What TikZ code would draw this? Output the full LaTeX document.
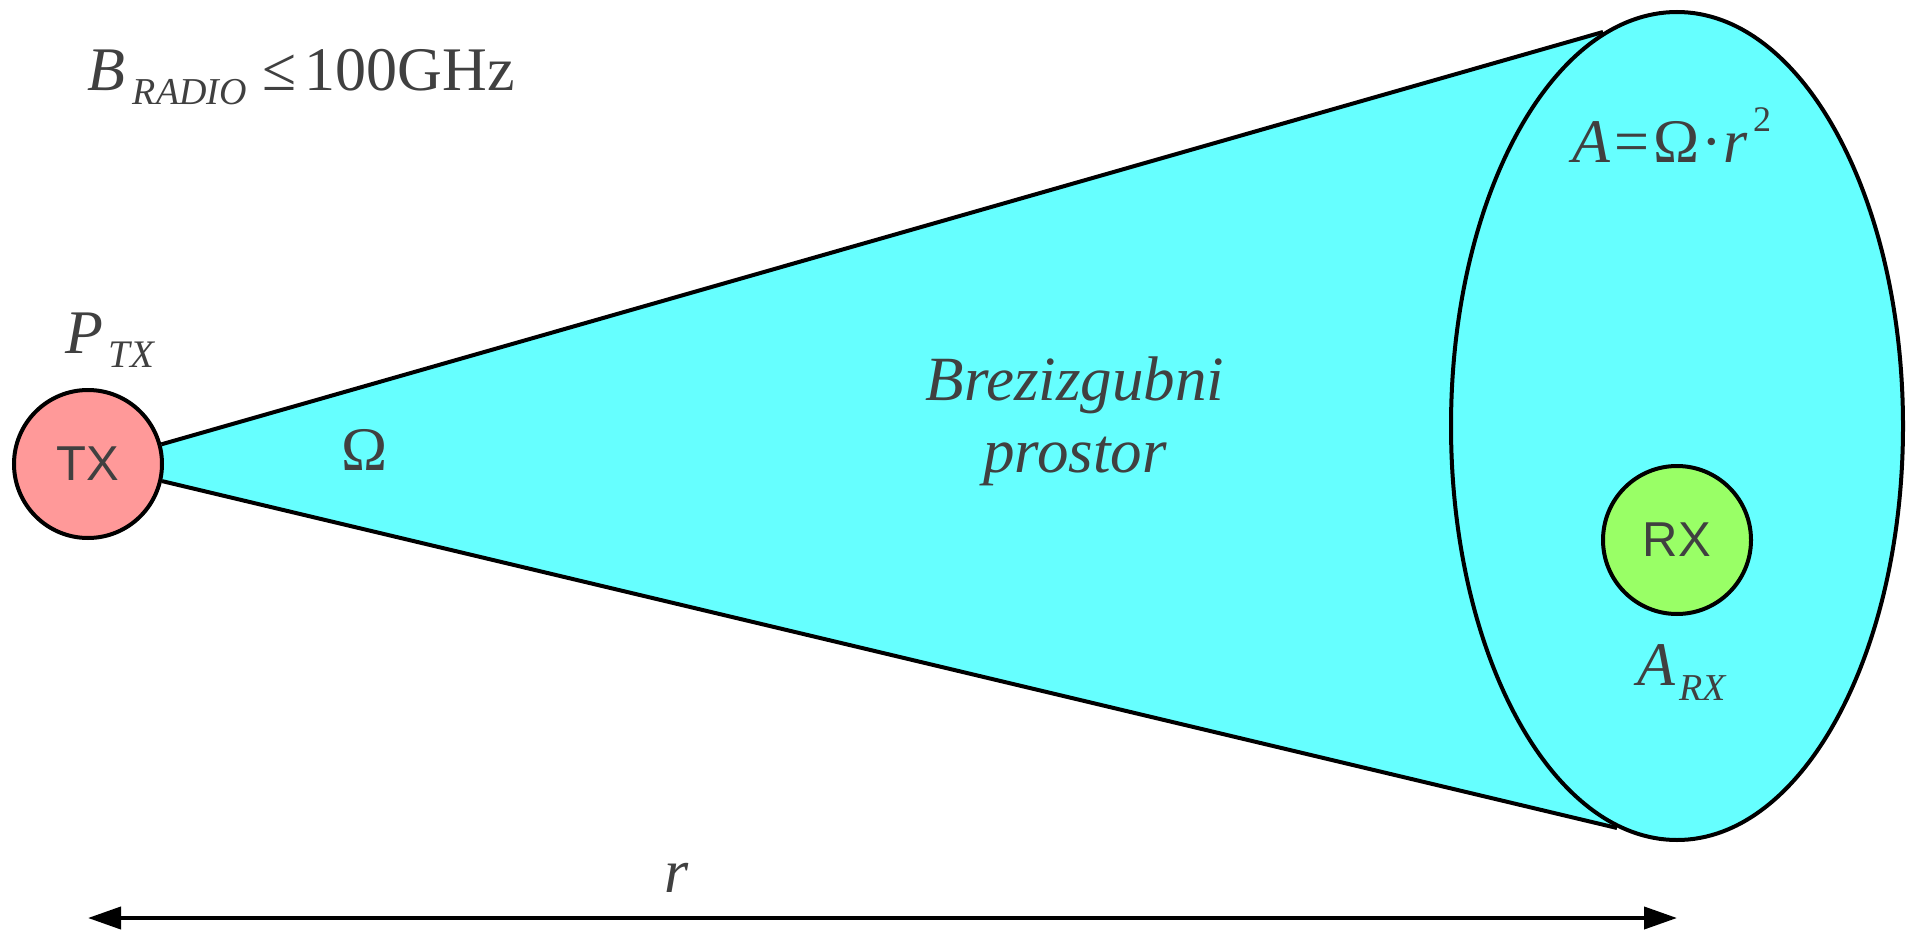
\documentclass[tikz,border=0pt]{standalone}
\usepackage{fontspec}
\setmainfont{Liberation Serif}
\setsansfont{Liberation Sans}
\usepackage{tikz}
\usetikzlibrary{arrows.meta,shapes.geometric,backgrounds}
\definecolor{ink}{HTML}{404040}
\definecolor{beam}{HTML}{66FFFF}
\definecolor{txred}{HTML}{FF9999}
\definecolor{rxgreen}{HTML}{99FF66}
\newcommand{\fsz}[1]{\fontsize{#1}{#1}\selectfont}
\newcommand{\sublbl}[3]{\raisebox{-#1pt}{\fsz{#2}\itshape #3}}
\tikzset{
  lbl/.style={text=ink, inner sep=0pt, anchor=base west, font=\fsz{62}},
  rim/.style={draw=black, line width=4pt},
  station/.style={circle, rim, minimum size=148pt, inner sep=0pt,
    text=ink, font=\sffamily\fsz{49}},
  disc/.style={ellipse, rim, fill=beam, minimum width=452pt,
    minimum height=828pt, inner sep=0pt},
}
\begin{document}
\begin{tikzpicture}[x=1pt, y=-1pt, line width=4pt]
\useasboundingbox (0,0) rectangle (1912,931);
\coordinate (ctop) at (1603,32);
\coordinate (cbot) at (1617,828);
\node[station, fill=txred] (tx) at (88,464) {TX};
\node[station, fill=rxgreen] (rx) at (1677,540) {RX};
\begin{scope}[on background layer]
\fill[beam] (tx.center) -- (tx.15) -- (ctop) -- (cbot) -- (tx.-13) -- cycle;
\draw[rim] (tx.15) -- (ctop);
\draw[rim] (tx.-13) -- (cbot);
\node[disc] (front) at (1677,426) {};
\end{scope}
% labels
\node[lbl] (band) at (85,91) {\textit{B}\hspace{8pt}\sublbl{14}{38}{RADIO}\hspace{16pt}≤\hspace{8pt}100GHz};
\node[lbl] (ptx) at (63,353) {\textit{P}\hspace{6pt}\sublbl{14}{39}{TX}};
\node[lbl, anchor=base] (omega) at (365,470) {Ω};
\node[lbl, anchor=base, align=center, font=\fontsize{63}{72}\selectfont\itshape] (space) at (1075,472) {Brezizgubni\\prostor};
\node[lbl] (area) at (1570,163) {\textit{A}\hspace{4pt}=\hspace{4pt}Ω\hspace{2pt}·\hspace{2pt}\textit{r}\hspace{5pt}\raisebox{31pt}{\fsz{36}2}};
\node[lbl] (arx) at (1635,685) {\textit{A}\hspace{4pt}\sublbl{15}{38}{RX}};
\node[lbl, font=\fsz{62}\itshape] (dist) at (662,892) {r};
% distance
\coordinate (rl) at (88,918);
\coordinate (rr) at (1677,918);
\draw[{Triangle[length=33pt,width=22pt]}-{Triangle[length=33pt,width=22pt]}] (rl) -- (rr);
\end{tikzpicture}
\end{document}
